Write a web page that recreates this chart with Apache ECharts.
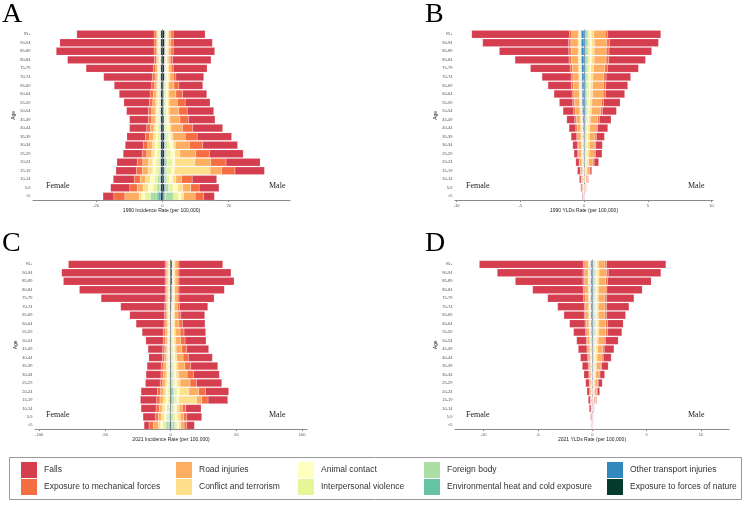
<!DOCTYPE html>
<html lang="en">
<head>
  <meta charset="UTF-8" />
  <title>Injury pyramids</title>
  <style>
    * { padding: 0; margin: 0; }
    html, body { width: 100%; height: 100%; background: #fff; }
    #chart { width: 750px; height: 505px; }
  </style>
</head>
<body>
  <div id="chart"></div>
  <script src="https://cdn.jsdelivr.net/npm/echarts@6/dist/echarts.min.js"></script>
  <script>
    var ages = ['95+', '90-94', '85-89', '80-84', '75-79', '70-74', '65-69', '60-64', '55-59', '50-54',
      '45-49', '40-44', '35-39', '30-34', '25-29', '20-24', '15-19', '10-14', '5-9', '<5']
    var causes = ['Falls', 'Exposure to mechanical forces', 'Road injuries', 'Conflict and terrorism',
      'Animal contact', 'Interpersonal violence', 'Foreign body', 'Environmental heat and cold exposure',
      'Other transport injuries', 'Exposure to forces of nature']
    var colors = ['#D53E4F', '#F46D43', '#FDAE61', '#FEE08B', '#FFFFBF', '#E6F598', '#ABDDA4', '#66C2A5', '#3288BD', '#053B2C']

    // rows follow `causes`, columns follow `ages`
    var incid1990F = [
      [23.3, 28.4, 29.5, 26.2, 20.3, 14.7, 11.3, 9.3, 7.7, 6.6, 5.7, 5.2, 5.6, 5.5, 5.7, 6.1, 6.2, 6.3, 5.8, 3.3],
      [.6, .6, .6, .6, .7, .8, .9, 1.0, 1.0, 1.0, 1.0, 1.1, 1.2, 1.3, 1.4, 1.7, 1.7, 1.8, 2.2, 3.3],
      [.4, .4, .4, .4, .5, .6, .6, .8, .9, 1.0, 1.0, 1.1, 1.2, 1.4, 1.5, 1.7, 1.8, 1.6, 1.8, 4.3],
      [.3, .3, .3, .3, .3, .3, .35, .5, .5, .5, .5, .6, .7, .8, .9, 1.3, 1.4, 1.4, 1.5, .8],
      [.3, .3, .3, .3, .3, .3, .35, .4, .45, .5, .5, .55, .6, .7, .8, 1.0, 1.0, 1.3, 1.5, .9],
      [.2, .2, .2, .2, .2, .2, .25, .3, .35, .4, .4, .5, .6, .65, .7, .9, .9, 1.0, 1.2, 1.7],
      [.1, .1, .1, .1, .1, .15, .15, .1, .1, .15, .15, .2, .15, .2, .15, .25, .25, .5, .8, 2.0],
      [.05, .05, .05, .05, .05, .1, .1, .05, .05, .1, .1, .1, .1, .1, .1, .15, .15, .25, .2, .6],
      [.05, .05, .05, .05, .05, .05, .05, .05, .05, .05, .05, .05, .05, .05, .05, .1, .1, .15, .1, .5],
      [.5, .5, .5, .4, .5, .5, .45, .5, .5, .5, .5, .5, .5, .5, .5, .5, .5, .5, .5, .5]
    ]
    var incid1990M = [
      [9.6, 11.8, 12.5, 11.6, 10.2, 8.4, 7.2, 7.3, 7.5, 8.0, 8.0, 9.0, 10.4, 10.5, 10.2, 10.3, 8.9, 7.4, 6.0, 3.3],
      [.7, .7, .7, .7, .6, .8, 1.5, 2.0, 2.4, 2.5, 2.6, 3.1, 3.6, 4.0, 4.1, 4.6, 4.0, 3.2, 2.5, 2.5],
      [.7, .7, .7, .6, .7, 1.0, 1.5, 2.1, 2.4, 2.9, 3.0, 3.5, 3.7, 4.3, 4.8, 4.8, 3.5, 1.7, 2.4, 3.5],
      [.4, .4, .4, .4, .4, .5, .4, .4, .4, .4, .4, .5, .6, .7, 1.5, 6.0, 10.8, 1.0, 1.6, .7],
      [.3, .3, .3, .3, .4, .5, .5, .5, .5, .5, .6, .6, .7, 1.0, 1.3, .8, .8, 1.0, 1.4, .8],
      [.3, .3, .3, .3, .3, .3, .4, .4, .5, .5, .5, .6, .7, .8, 1.2, 1.5, 1.5, .8, 1.3, 1.5],
      [.1, .1, .1, .1, .15, .2, .15, .15, .15, .15, .15, .2, .3, .4, .35, .4, .4, .5, .8, 2.5],
      [.05, .05, .05, .05, .1, .1, .1, .1, .1, .1, .1, .1, .2, .3, .25, .3, .2, .2, .3, .3],
      [.05, .05, .05, .05, .05, .1, .05, .05, .05, .05, .05, .1, .1, .1, .1, .2, .2, .1, .2, .2],
      [.7, .7, .7, .6, .6, .6, .4, .4, .4, .4, .5, .5, .6, .6, .6, .6, .5, .5, .6, .4]
    ]
    var ylds1990F = [
      [7.67, 6.73, 5.45, 4.24, 3.11, 2.28, 1.83, 1.42, 1.05, .84, .63, .53, .44, .37, .29, .26, .21, .13, .08, .05],
      [.18, .19, .18, .18, .17, .15, .15, .14, .13, .12, .11, .10, .09, .08, .07, .06, .05, .04, .03, .02],
      [.52, .56, .55, .54, .50, .46, .45, .42, .40, .36, .32, .28, .25, .22, .21, .16, .12, .08, .06, .03],
      [.08, .09, .09, .09, .08, .08, .08, .08, .07, .07, .07, .07, .06, .06, .06, .05, .04, .04, .03, .02],
      [.04, .04, .04, .04, .04, .04, .04, .04, .03, .03, .03, .03, .03, .03, .03, .02, .02, .02, .01, .01],
      [.05, .06, .05, .05, .05, .05, .05, .05, .05, .05, .05, .04, .04, .04, .04, .03, .03, .02, .02, .01],
      [.03, .04, .04, .04, .04, .04, .04, .03, .03, .03, .03, .03, .03, .02, .02, .02, .02, .02, .02, .01],
      [.03, .03, .03, .03, .03, .03, .03, .03, .03, .02, .02, .02, .02, .02, .02, .01, .01, .01, .01, .01],
      [.21, .21, .21, .20, .18, .16, .15, .14, .14, .12, .09, .07, .05, .04, .04, .03, .02, .01, 0, 0],
      [.01, .01, .01, .01, .01, .01, .01, .01, .01, .01, .01, .01, .01, .01, .01, .01, 0, 0, 0, 0]
    ]
    var ylds1990M = [
      [4.16, 3.85, 3.35, 2.88, 2.44, 1.93, 1.73, 1.51, 1.31, 1.10, .92, .79, .63, .52, .52, .36, .13, .05, .03, .02],
      [.20, .22, .22, .21, .20, .19, .18, .18, .16, .15, .13, .12, .11, .10, .10, .09, .05, .03, .02, .01],
      [.90, .96, .95, .94, .89, .84, .83, .82, .74, .70, .57, .50, .44, .41, .39, .33, .18, .10, .05, .02],
      [.20, .22, .21, .21, .20, .19, .19, .19, .17, .17, .15, .14, .13, .13, .13, .13, .09, .06, .03, .01],
      [.10, .11, .11, .11, .10, .09, .09, .09, .08, .07, .06, .05, .05, .05, .05, .04, .03, .02, .01, 0],
      [.15, .16, .16, .16, .15, .14, .14, .14, .13, .12, .10, .09, .09, .09, .09, .08, .05, .03, .02, .01],
      [.10, .10, .10, .10, .10, .09, .09, .09, .08, .08, .07, .06, .05, .05, .05, .04, .03, .02, .01, .01],
      [.10, .10, .10, .10, .09, .09, .09, .08, .08, .07, .06, .05, .05, .05, .04, .04, .02, .02, .01, 0],
      [.10, .11, .10, .10, .09, .09, .08, .08, .07, .07, .05, .05, .04, .03, .03, .03, .02, .01, 0, 0],
      [.01, .01, .01, .01, .01, .01, .01, .01, .01, .01, .01, .01, .01, .01, .01, .01, 0, 0, 0, 0]
    ]
    var incid2021F = [
      [73.6, 78.7, 77.4, 65.2, 48.7, 33.5, 26.4, 21.3, 16.2, 13.2, 11.2, 10.4, 10.9, 11.4, 11.2, 12.5, 12.4, 11.4, 9.2, 3.8],
      [1.0, 1.0, 1.0, 1.0, 1.0, 1.1, 1.2, 1.3, 1.4, 1.5, 1.5, 1.6, 1.8, 1.8, 2.0, 2.4, 2.5, 2.4, 2.4, 3.3],
      [1.0, 1.0, 1.0, 1.0, 1.0, 1.1, 1.2, 1.3, 1.5, 1.5, 1.6, 1.6, 1.8, 1.9, 2.1, 2.5, 2.6, 2.2, 2.3, 3.8],
      [.6, .6, .6, .6, .6, .6, .6, .7, .7, .7, .8, .8, 1.0, 1.1, 1.2, 1.7, 1.9, 2.0, 2.1, 1.7],
      [.4, .4, .4, .4, .4, .5, .5, .5, .6, .6, .6, .7, .8, .8, .9, 1.2, 1.3, 1.6, 1.7, 1.6],
      [.3, .3, .3, .3, .3, .3, .3, .3, .4, .4, .5, .5, .6, .6, .7, 1.0, 1.1, 1.3, 1.5, 2.5],
      [.2, .2, .2, .2, .2, .2, .2, .2, .2, .3, .3, .3, .3, .3, .3, .4, .4, .6, .8, 1.8],
      [.1, .1, .1, .1, .1, .1, .1, .1, .1, .1, .1, .1, .1, .2, .2, .2, .2, .3, .3, .6],
      [.1, .1, .1, .1, .1, .1, .1, .1, .1, .1, .1, .1, .1, .1, .1, .1, .1, .2, .2, .4],
      [.6, .6, .6, .6, .6, .6, .6, .6, .6, .6, .6, .6, .6, .6, .6, .6, .6, .6, .6, .8]
    ]
    var incid2021M = [
      [33.3, 39.6, 41.9, 34.5, 26.7, 21.6, 18.3, 17.2, 16.5, 16.0, 16.7, 18.3, 20.6, 19.7, 19.0, 17.7, 15.0, 11.7, 11.4, 5.8],
      [1.3, 1.3, 1.3, 1.4, 1.4, 1.5, 2.0, 2.6, 3.0, 3.3, 3.7, 4.0, 4.4, 4.8, 5.1, 5.1, 4.8, 2.5, 2.4, 2.0],
      [1.7, 1.7, 1.7, 1.8, 1.8, 2.1, 2.6, 3.1, 3.6, 3.9, 4.4, 4.8, 5.5, 6.5, 7.6, 7.6, 4.0, 2.5, 2.6, 2.5],
      [.8, .8, .8, .8, .8, .8, .9, 1.0, 1.1, 1.2, 1.3, 1.5, 1.7, 2.0, 2.5, 7.0, 13.5, 2.0, 2.2, 1.5],
      [.6, .6, .6, .6, .6, .7, .7, .7, .8, .8, .9, 1.0, 1.2, 1.3, 1.5, 1.9, 1.5, 1.5, 1.7, 1.5],
      [.4, .4, .4, .4, .4, .4, .45, .5, .55, .6, .7, .8, .9, 1.0, 1.2, 2.0, 2.0, 1.2, 1.3, 1.7],
      [.3, .3, .3, .3, .3, .3, .3, .3, .35, .35, .4, .4, .5, .6, .7, 1.0, 1.0, .8, 1.0, 1.8],
      [.1, .1, .1, .1, .1, .2, .25, .3, .3, .3, .3, .4, .4, .5, .6, .8, .6, .4, .5, .6],
      [.1, .1, .1, .1, .1, .1, .2, .2, .2, .2, .25, .25, .3, .3, .3, .5, .5, .2, .2, .2],
      [1.0, 1.0, 1.0, .8, .8, .5, .2, .2, .2, .25, .25, .25, .3, .3, .3, .5, .5, .3, .3, .4]
    ]
    var ylds2021F = [
      [9.57, 7.89, 6.23, 4.66, 3.31, 2.45, 1.87, 1.42, 1.11, .89, .80, .67, .55, .46, .33, .24, .19, .16, .07, .03],
      [.15, .15, .15, .15, .14, .13, .13, .12, .11, .10, .09, .08, .07, .06, .05, .04, .03, .02, .01, .01],
      [.30, .32, .32, .30, .29, .27, .27, .24, .22, .20, .18, .15, .13, .11, .10, .09, .06, .04, .03, .02],
      [.08, .08, .08, .08, .08, .07, .07, .06, .06, .06, .05, .05, .04, .04, .04, .04, .03, .02, .01, .01],
      [.04, .04, .04, .04, .04, .03, .03, .03, .03, .03, .03, .03, .02, .02, .02, .02, .01, .01, .01, 0],
      [.05, .06, .06, .05, .05, .05, .05, .05, .04, .04, .03, .03, .03, .02, .02, .02, .02, .01, .01, .01],
      [.04, .04, .04, .04, .04, .04, .04, .03, .03, .03, .03, .02, .02, .02, .02, .01, .01, .01, .01, .01],
      [.03, .03, .03, .03, .03, .03, .03, .03, .03, .02, .02, .02, .02, .01, .01, .01, .01, .01, 0, 0],
      [.11, .11, .11, .11, .10, .10, .10, .09, .07, .05, .04, .02, .03, .02, .01, .01, .01, 0, 0, 0],
      [.03, .03, .03, .03, .03, .02, .02, .02, .02, .02, .02, .02, .01, .01, .01, .01, 0, 0, 0, 0]
    ]
    var ylds2021M = [
      [5.46, 4.85, 4.02, 3.25, 2.52, 2.06, 1.75, 1.44, 1.32, 1.16, .90, .74, .61, .43, .37, .22, .06, .03, .02, .01],
      [.15, .17, .16, .15, .15, .15, .15, .16, .16, .14, .12, .11, .10, .08, .06, .05, .04, .02, .01, .01],
      [.60, .67, .64, .62, .60, .60, .60, .64, .64, .55, .49, .45, .37, .30, .23, .19, .13, .07, .04, .03],
      [.15, .17, .16, .15, .15, .15, .15, .17, .17, .16, .15, .14, .13, .11, .09, .08, .06, .03, .02, .01],
      [.10, .11, .11, .10, .10, .10, .10, .10, .10, .08, .07, .06, .05, .04, .03, .03, .02, .01, .01, .01],
      [.10, .11, .10, .10, .10, .10, .10, .11, .11, .10, .09, .08, .07, .06, .05, .04, .03, .02, .01, .01],
      [.08, .09, .09, .08, .08, .08, .08, .08, .08, .07, .06, .06, .05, .04, .03, .03, .02, .01, .01, .01],
      [.05, .06, .06, .06, .05, .05, .05, .06, .06, .05, .05, .04, .04, .04, .03, .02, .02, .01, 0, 0],
      [.07, .07, .07, .07, .07, .07, .07, .07, .07, .06, .05, .05, .04, .03, .02, .01, .01, .01, 0, 0],
      [.02, .02, .02, .02, .02, .02, .02, .02, .02, .02, .02, .02, .01, .01, .01, .01, .01, 0, 0, 0]
    ]

    var panels = [
      { tag: 'A', female: incid1990F, male: incid1990M, title: '1990 Incidence Rate (per 100,000)',
        grid: { left: 33, top: 30, width: 257, height: 170.6 }, min: -39, max: 38.5, ticks: [-20, 0, 20],
        tagPos: [2, 1], femalePos: [46, 186], malePos: [269, 186] },
      { tag: 'B', female: ylds1990F, male: ylds1990M, title: '1990 YLDs Rate (per 100,000)',
        grid: { left: 455, top: 30, width: 258, height: 170.6 }, min: -10.13, max: 10.12, ticks: [-10, -5, 0, 5, 10],
        tagPos: [425, 1], femalePos: [466, 186], malePos: [688, 186] },
      { tag: 'C', female: incid2021F, male: incid2021M, title: '2021 Incidence Rate (per 100,000)',
        grid: { left: 35, top: 260.1, width: 272, height: 169.5 }, min: -103.3, max: 103.7, ticks: [-100, -50, 0, 50, 100],
        tagPos: [2, 230], femalePos: [46, 415], malePos: [269, 415] },
      { tag: 'D', female: ylds2021F, male: ylds2021M, title: '2021 YLDs Rate (per 100,000)',
        grid: { left: 455, top: 260.1, width: 274, height: 169.5 }, min: -12.64, max: 12.59, ticks: [-10, -5, 0, 5, 10],
        tagPos: [425, 230], femalePos: [466, 415], malePos: [688, 415] }
    ]

    var font = 'Liberation Sans'
    var serif = 'Liberation Serif'
    var grids = [], xAxes = [], yAxes = [], series = [], graphics = []

    panels.forEach(function (p, i) {
      grids.push(p.grid)
      xAxes.push({
        type: 'value', gridIndex: i, min: p.min, max: p.max,
        name: p.title, nameLocation: 'middle', nameGap: 8,
        nameTextStyle: { fontSize: 5, color: '#222', fontFamily: font },
        splitLine: { show: false },
        axisLine: { show: true, lineStyle: { color: '#8a8a8a', width: 1 } },
        axisTick: { show: true, length: 1.5, customValues: p.ticks, lineStyle: { color: '#8a8a8a' } },
        axisLabel: { fontSize: 4, color: '#555', margin: 3, fontFamily: font, customValues: p.ticks }
      })
      yAxes.push({
        type: 'category', gridIndex: i, data: ages, inverse: true,
        name: 'Age', nameLocation: 'middle', nameGap: 15, nameRotate: 90,
        nameTextStyle: { fontSize: 5, color: '#222', fontFamily: font },
        axisLine: { show: true, lineStyle: { color: '#8a8a8a', width: 1 } },
        axisTick: { show: true, length: 1.5, alignWithLabel: true, lineStyle: { color: '#8a8a8a' } },
        axisLabel: { fontSize: 4, color: '#555', margin: 2.5, fontFamily: font, interval: 0 }
      })
      // stack from the centre outwards: last cause sits next to zero
      for (var c = causes.length - 1; c >= 0; c--) {
        ;[['f', p.female, -1], ['m', p.male, 1]].forEach(function (s) {
          series.push({
            name: causes[c], type: 'bar', xAxisIndex: i, yAxisIndex: i,
            stack: 'panel' + i, barCategoryGap: '10%',
            itemStyle: { color: colors[c], borderColor: 'rgba(255,235,240,0.6)', borderWidth: 0.25 },
            data: s[1][c].map(function (v) { return v * s[2] })
          })
        })
      }
      graphics.push({ type: 'text', left: p.tagPos[0], top: p.tagPos[1],
        style: { text: p.tag, font: '28px "' + serif + '"', fill: '#000' } })
      graphics.push({ type: 'text', x: p.femalePos[0], y: p.femalePos[1],
        style: { text: 'Female', font: '8px "' + serif + '"', fill: '#222', verticalAlign: 'middle' } })
      graphics.push({ type: 'text', x: p.malePos[0], y: p.malePos[1],
        style: { text: 'Male', font: '8px "' + serif + '"', fill: '#222', verticalAlign: 'middle' } })
    })

    graphics.push({ type: 'rect', shape: { x: 9.5, y: 457.5, width: 732, height: 42 },
      style: { fill: 'none', stroke: '#9a9a9a', lineWidth: 1 } })

    var legendCols = [[0, 1], [2, 3], [4, 5], [6, 7], [8, 9]]
    var legendX = [21, 176, 298, 424, 607]
    var legends = legendCols.map(function (col, k) {
      return {
        orient: 'vertical', left: legendX[k], top: 462, padding: 0,
        itemWidth: 16, itemHeight: 16, itemGap: 1, icon: 'rect', selectedMode: false,
        itemStyle: { borderWidth: 0 },
        data: col.map(function (n) { return causes[n] }),
        textStyle: { fontSize: 8.5, color: '#333', fontFamily: font, padding: [0, 0, 0, 2] }
      }
    })

    var myChart = echarts.init(document.getElementById('chart'))
    myChart.setOption({
      animation: false,
      backgroundColor: '#fff',
      textStyle: { fontFamily: font },
      grid: grids,
      xAxis: xAxes,
      yAxis: yAxes,
      legend: legends,
      series: series,
      graphic: graphics
    })
  </script>
</body>
</html>
